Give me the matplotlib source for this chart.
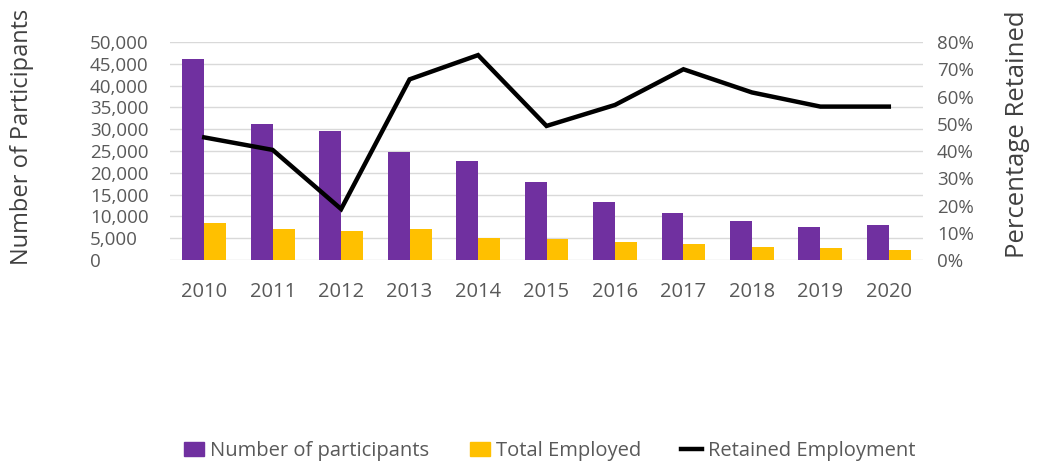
import matplotlib
matplotlib.use("Agg")
import matplotlib.pyplot as plt
from matplotlib.ticker import FuncFormatter, MultipleLocator
from matplotlib.patches import Patch
from matplotlib.lines import Line2D
import numpy as np

years = ["2010", "2011", "2012", "2013", "2014", "2015", "2016", "2017", "2018", "2019", "2020"]
participants = [46000, 31300, 29600, 24700, 22700, 18000, 13200, 10800, 8900, 7600, 8000]
employed = [8500, 7100, 6650, 7100, 5000, 4800, 4100, 3600, 2900, 2700, 2300]
retained = [45.0, 40.4, 18.7, 66.3, 75.2, 49.2, 56.9, 70.0, 61.5, 56.3, 56.3]

plt.rcParams['font.family'] = ['Open Sans', 'DejaVu Sans']
gray = "#595959"

fig = plt.figure(figsize=(10.39, 4.70), dpi=100)
ax = fig.add_axes([0.1636, 0.4468, 0.7248, 0.4638])
ax2 = ax.twinx()

x = np.arange(len(years))
w = 0.32
ax.bar(x - w / 2, participants, width=w, color="#7030A0", zorder=2)
ax.bar(x + w / 2, employed, width=w, color="#FFC000", zorder=2)
ax2.plot(x, retained, color="black", linewidth=3.2, solid_joinstyle="miter", zorder=3)

ax.set_xlim(-0.5, len(years) - 0.5)
ax.set_ylim(0, 50000)
ax2.set_ylim(0, 80)
ax.yaxis.set_major_locator(MultipleLocator(5000))
ax2.yaxis.set_major_locator(MultipleLocator(10))
ax.yaxis.set_major_formatter(FuncFormatter(lambda v, p: f"{int(v):,}"))
ax2.yaxis.set_major_formatter(FuncFormatter(lambda v, p: f"{int(v)}%"))
ax.set_xticks(x)
ax.set_xticklabels(years)

ax.grid(axis="y", color="#d9d9d9", linewidth=1, zorder=0)
ax.set_axisbelow(True)
for a in (ax, ax2):
    for s in a.spines.values():
        s.set_visible(False)
    a.tick_params(length=0, colors=gray)
ax.tick_params(axis="x", pad=16, labelsize=14.5)
ax.tick_params(axis="y", pad=57.6, labelsize=13.5)
for t in ax.get_yticklabels():
    t.set_horizontalalignment("left")
ax2.tick_params(axis="y", pad=10, labelsize=13.5)

fig.text(22 / 1039, 1 - 137 / 470, "Number of Participants", rotation=90,
         ha="center", va="center", fontsize=17, color="#404040")
fig.text(1018 / 1039, 1 - 134 / 470, "Percentage Retained", rotation=90,
         ha="center", va="center", fontsize=18.5, color="#404040")

handles = [Patch(color="#7030A0"), Patch(color="#FFC000"),
           Line2D([0], [0], color="black", linewidth=3.2)]
labels = ["Number of participants", "Total Employed", "Retained Employment"]
fig.legend(handles, labels, loc="center", bbox_to_anchor=(0.529, 0.040), ncol=3,
           frameon=False, fontsize=14.5, labelcolor=gray, handlelength=1.0,
           handletextpad=0.3, columnspacing=2.0)

fig.savefig("out.png", dpi=100)
